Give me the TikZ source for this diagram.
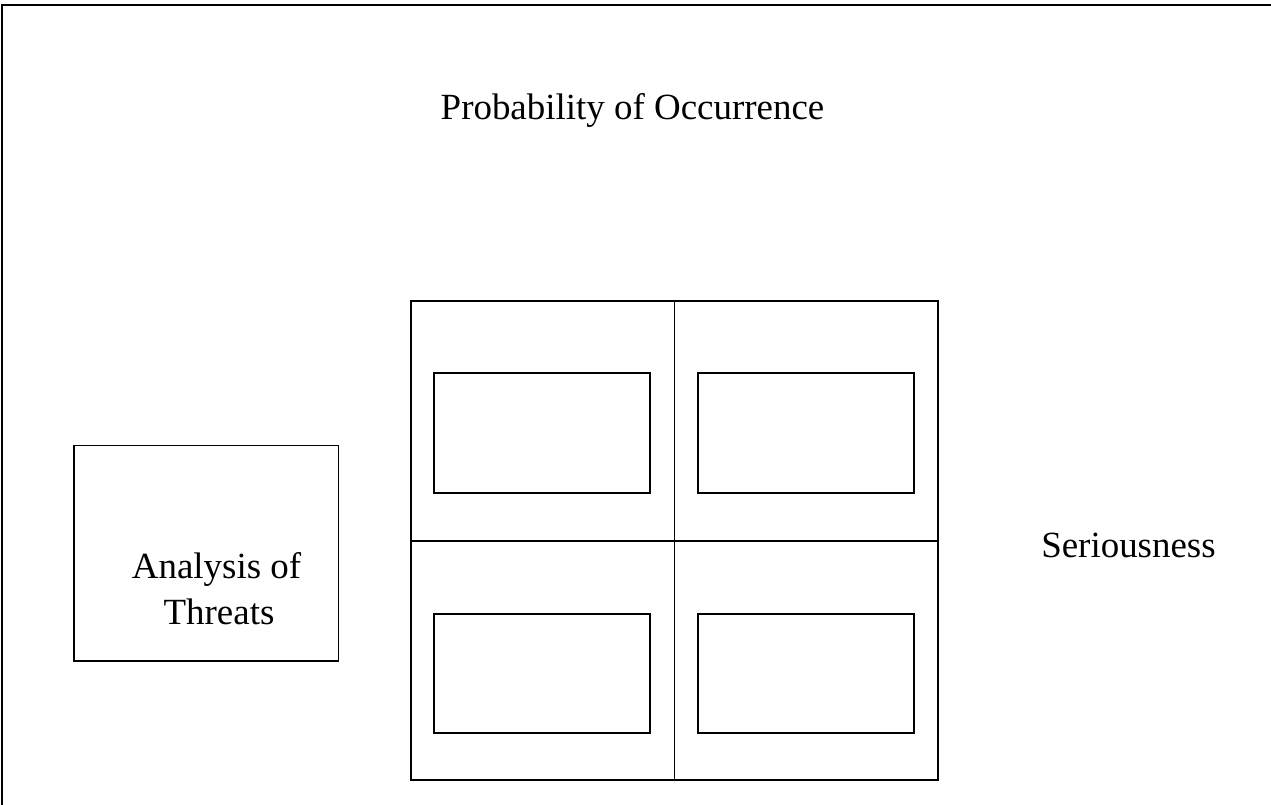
\documentclass[tikz,border=0pt]{standalone}
\usepackage{fontspec}
\setmainfont{Liberation Serif}
\tikzset{
  ln/.style={draw=black, line width=1.4pt},
  lbl/.style={font=\fontsize{27.7}{34}\selectfont, inner sep=0pt, anchor=base}
}
\begin{document}
\begin{tikzpicture}[x=0.75pt, y=-0.75pt]
\useasboundingbox (0,0) rectangle (1271,804);
% frame
\coordinate (fl) at (2.3,804);
\coordinate (fc) at (2.3,4.7);
\coordinate (fr) at (1271,4.7);
\draw[ln, line cap=rect] (fl) -- (fc) -- (fr);
% analysis box
\draw[ln] (74,445.5) rectangle (338.5,661);
\node[lbl] (an1) at (216.5,578) {Analysis of};
\node[lbl] (an2) at (219,624) {Threats};
% titles
\node[lbl] (prob) at (632.5,119) {Probability of Occurrence};
\node[lbl] (ser) at (1128.5,557) {Seriousness};
% grid
\draw[ln] (410.7,301.3) rectangle (938.3,780.3);
\coordinate (vt) at (674.5,301.3);
\coordinate (vb) at (674.5,780.3);
\coordinate (hl) at (410.7,541);
\coordinate (hr) at (938.3,541);
\draw[ln] (vt) -- (vb);
\draw[ln] (hl) -- (hr);
% inner boxes
\draw[ln] (434.3,373.3) rectangle (650,493.3);
\draw[ln] (698.3,373.3) rectangle (914.3,493.3);
\draw[ln] (434.3,614) rectangle (650,733.3);
\draw[ln] (698.3,614) rectangle (914.3,733.3);
\end{tikzpicture}
\end{document}
